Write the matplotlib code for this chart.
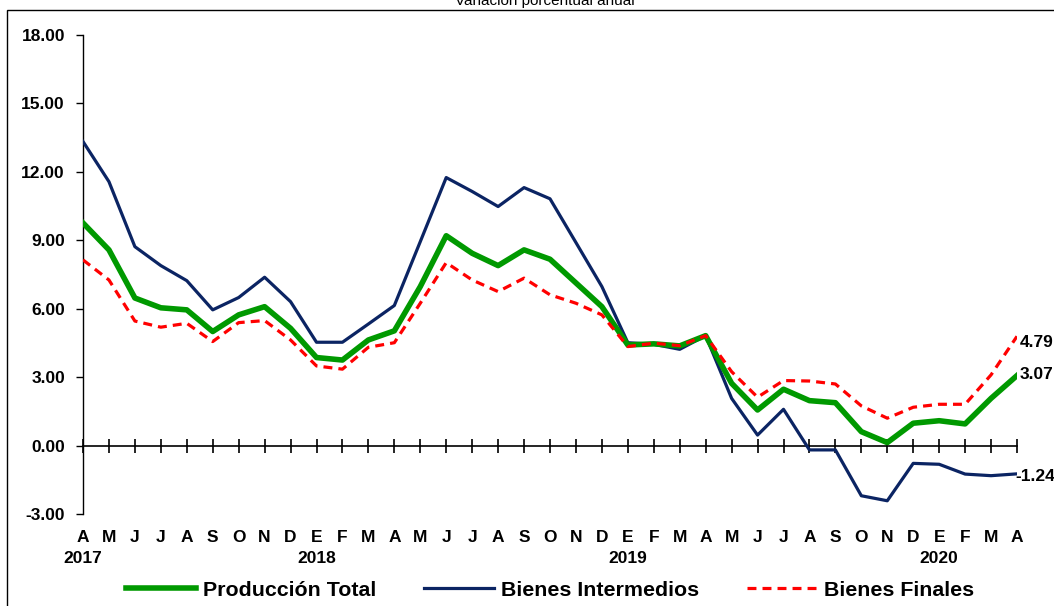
import numpy as np
import matplotlib
matplotlib.use('Agg')
import matplotlib.pyplot as plt
from matplotlib.patches import Rectangle

months = ['A', 'M', 'J', 'J', 'A', 'S', 'O', 'N', 'D',
          'E', 'F', 'M', 'A', 'M', 'J', 'J', 'A', 'S', 'O', 'N', 'D',
          'E', 'F', 'M', 'A', 'M', 'J', 'J', 'A', 'S', 'O', 'N', 'D',
          'E', 'F', 'M', 'A']
years = {0: '2017', 9: '2018', 21: '2019', 33: '2020'}

produccion_total = [9.76, 8.58, 6.47, 6.04, 5.95, 5.00, 5.73, 6.09, 5.14,
                    3.86, 3.75, 4.63, 5.03, 6.97, 9.20, 8.43, 7.89, 8.58, 8.17,
                    7.13, 6.09, 4.41, 4.46, 4.37, 4.82, 2.73, 1.56, 2.47, 1.97,
                    1.88, 0.61, 0.13, 0.98, 1.09, 0.95, 2.07, 3.07]
bienes_intermedios = [13.33, 11.57, 8.72, 7.89, 7.23, 5.95, 6.49, 7.38, 6.31,
                      4.53, 4.53, 5.33, 6.14, 8.94, 11.75, 11.14, 10.48, 11.31, 10.82,
                      8.90, 6.97, 4.51, 4.44, 4.22, 4.82, 2.07, 0.46, 1.59, -0.19,
                      -0.19, -2.20, -2.42, -0.78, -0.82, -1.25, -1.32, -1.24]
bienes_finales = [8.14, 7.26, 5.46, 5.19, 5.36, 4.56, 5.39, 5.48, 4.63,
                  3.49, 3.35, 4.31, 4.51, 6.24, 8.02, 7.26, 6.75, 7.34, 6.61,
                  6.24, 5.73, 4.34, 4.49, 4.38, 4.82, 3.24, 2.12, 2.85, 2.83,
                  2.70, 1.74, 1.20, 1.68, 1.81, 1.81, 3.10, 4.79]

plt.rcParams['font.family'] = ['Liberation Sans', 'DejaVu Sans']
plt.rcParams['font.weight'] = 'bold'

fig = plt.figure(figsize=(10.54, 6.06), dpi=100)
ax = fig.add_axes([83 / 1054, 1 - 514 / 606, (1017 - 83) / 1054, 479 / 606])

x = np.arange(len(months))
ax.plot(x, bienes_intermedios, color='#0b2463', lw=2.3, label='Bienes Intermedios', zorder=3)
ax.plot(x, produccion_total, color='#009900', lw=4.0, label='Producción Total', zorder=4)
ax.plot(x, bienes_finales, color='#ff0000', lw=2.3, ls=(0, (2.8, 1.9)), label='Bienes Finales', zorder=5)

ax.set_xlim(0, 36)
ax.set_ylim(-3, 18)
ax.set_yticks(np.arange(-3, 19, 3))
ax.yaxis.set_major_formatter(matplotlib.ticker.FormatStrFormatter('%.2f'))
ax.tick_params(axis='y', direction='out', length=5, width=1, labelsize=12.5, pad=8)
for lab in ax.get_yticklabels():
    lab.set_fontweight('bold')

ax.spines['top'].set_visible(False)
ax.spines['right'].set_visible(False)
ax.spines['left'].set_linewidth(1)
ax.spines['bottom'].set_position(('data', 0))
ax.spines['bottom'].set_linewidth(1.2)
ax.set_xticks(x)
ax.tick_params(axis='x', direction='inout', length=10, width=1.2, labelbottom=False)

trans = matplotlib.transforms.blended_transform_factory(ax.transData, ax.transAxes)
for i, m in enumerate(months):
    ax.text(i, -0.05, m, transform=trans, ha='center', va='center', fontsize=12.5, fontweight='bold')
for i, yr in years.items():
    ax.text(i, -0.092, yr, transform=trans, ha='center', va='center', fontsize=12.5, fontweight='bold')

# end-of-series value labels
ax.text(36.12, bienes_finales[-1] - 0.25, f'{bienes_finales[-1]:.2f}', ha='left', va='center',
        fontsize=12.5, fontweight='bold', clip_on=False)
ax.text(36.12, produccion_total[-1] + 0.03, f'{produccion_total[-1]:.2f}', ha='left', va='center',
        fontsize=12.5, fontweight='bold', clip_on=False)
ax.text(35.95, bienes_intermedios[-1] - 0.13, f'{bienes_intermedios[-1]:.2f}', ha='left', va='center',
        fontsize=12.5, fontweight='bold', clip_on=False)

handles, labels = ax.get_legend_handles_labels()
order = [1, 0, 2]
fig.legend([handles[i] for i in order], [labels[i] for i in order], loc='center',
           bbox_to_anchor=(550 / 1054, 1 - 590 / 606), ncol=3, frameon=False,
           prop={'size': 15.4, 'weight': 'bold'}, handlelength=3.3, columnspacing=2.2,
           handletextpad=0.33)

fig.text(545 / 1054, 1 - 5 / 606, 'Variación porcentual anual', ha='center', va='baseline',
         fontsize=11, fontweight='normal')
fig.patches.append(Rectangle((7 / 1054, -0.1), 1.2, 1.1 - 10 / 606, transform=fig.transFigure,
                             fill=False, edgecolor='black', lw=1))

fig.savefig('out.png', dpi=100)
